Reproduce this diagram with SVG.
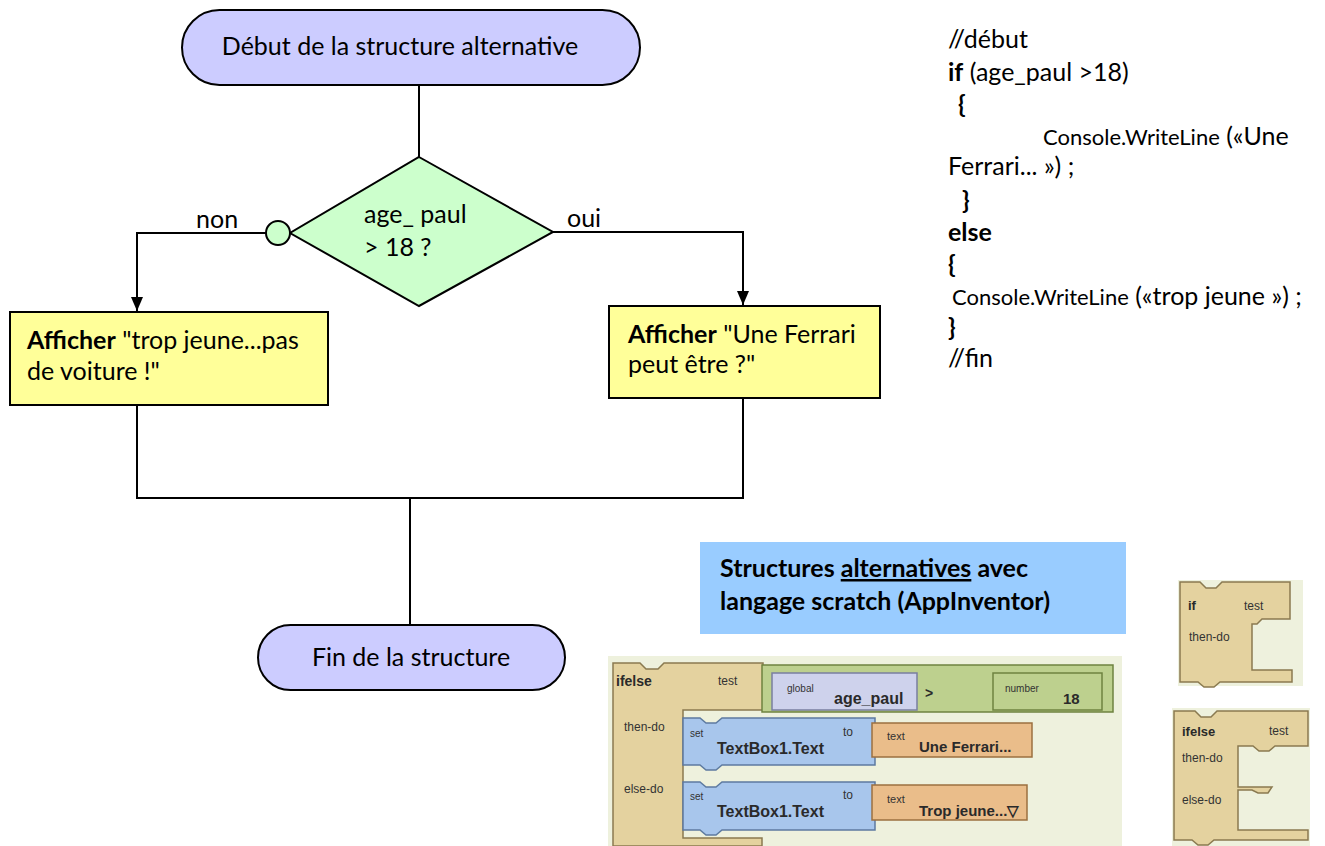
<svg xmlns="http://www.w3.org/2000/svg" width="1325" height="846" viewBox="0 0 1325 846">
<defs>
<marker id="arr" markerWidth="14" markerHeight="12" refX="14" refY="6" orient="auto" markerUnits="userSpaceOnUse" viewBox="0 0 14 12">
<path d="M0,0 L14,6 L0,12 Z" fill="#000"/>
</marker>
<style>
.t{font-family:Lato,"Liberation Sans",sans-serif;font-size:25px;fill:#000}
.c{font-family:Lato,"Liberation Sans",sans-serif;font-size:25px;fill:#000}
.term{fill:#ccccff;stroke:#000;stroke-width:2}
.box{fill:#ffff99;stroke:#000;stroke-width:2}
.dia{fill:#ccffcc;stroke:#000;stroke-width:2}
.ln{fill:none;stroke:#000;stroke-width:2}
.s{font-family:"Liberation Sans",Arial,sans-serif;fill:#333}
.sb{font-family:"Liberation Sans",Arial,sans-serif;font-weight:bold;fill:#2a2a2a}
.tan{fill:#e4d29f;stroke:#8a7a50;stroke-width:1.5}
.blue{fill:#a8c6ec;stroke:#5d7aa0;stroke-width:1.5}
.lav{fill:#ced2ec;stroke:#7a7fa0;stroke-width:1.5}
.grn{fill:#bdd08e;stroke:#6f8240;stroke-width:1.5}
.org{fill:#eabd8a;stroke:#9c7040;stroke-width:1.5}
</style>
</defs>
<rect width="1325" height="846" fill="#fff"/>

<g id="connectors">
<line class="ln" x1="419" y1="85" x2="419" y2="157"/>
<polyline class="ln" points="266,233 137,233 137,311" marker-end="url(#arr)"/>
<polyline class="ln" points="553,232 743,232 743,305" marker-end="url(#arr)"/>
<polyline class="ln" points="137,405 137,498 743,498 743,398"/>
<line class="ln" x1="410" y1="498" x2="410" y2="625"/>
</g>

<g id="start">
<rect class="term" x="182" y="10" width="458" height="75" rx="37.5"/>
<text class="t" x="400" y="55" text-anchor="middle">Début de la structure alternative</text>
</g>

<g id="decision">
<polygon class="dia" points="419,157 553,232 419,306 290,233"/>
<circle class="dia" cx="278" cy="233" r="12"/>
<text class="t" x="364" y="223">age_ paul</text>
<text class="t" x="364" y="256">&gt; 18 ?</text>
<text class="t" x="196" y="228">non</text>
<text class="t" x="567" y="227">oui</text>
</g>

<g id="no-box">
<rect class="box" x="10" y="312" width="318" height="93"/>
<text class="t" x="27" y="349"><tspan font-weight="bold">Afficher</tspan> "trop jeune...pas</text>
<text class="t" x="27" y="380">de voiture !"</text>
</g>

<g id="yes-box">
<rect class="box" x="609" y="306" width="271" height="92"/>
<text class="t" x="628" y="343"><tspan font-weight="bold">Afficher</tspan> "Une Ferrari</text>
<text class="t" x="628" y="373">peut être ?"</text>
</g>

<g id="end">
<rect class="term" x="258" y="625" width="307" height="65" rx="32.5"/>
<text class="t" x="411" y="666" text-anchor="middle">Fin de la structure</text>
</g>

<g id="code">
<text class="c" x="948" y="48">//début</text>
<text class="c" x="948" y="81"><tspan font-weight="bold">if</tspan> (age_paul &gt;18)</text>
<text class="c" x="958" y="113" font-weight="bold">{</text>
<text class="c" x="1043" y="145"><tspan font-size="22">Console.WriteLine</tspan> («Une</text>
<text class="c" x="948" y="175">Ferrari... ») ;</text>
<text class="c" x="962" y="209" font-weight="bold">}</text>
<text class="c" x="948" y="241" font-weight="bold">else</text>
<text class="c" x="948" y="273" font-weight="bold">{</text>
<text class="c" x="952" y="305"><tspan font-size="22">Console.WriteLine</tspan> («trop jeune ») ;</text>
<text class="c" x="948" y="336" font-weight="bold">}</text>
<text class="c" x="948" y="367">//fin</text>
</g>

<g id="title">
<rect x="700" y="542" width="426" height="92" fill="#99ccff"/>
<text class="c" x="720" y="577" font-weight="bold">Structures <tspan text-decoration="underline">alternatives</tspan> avec</text>
<text class="c" x="720" y="610" font-weight="bold">langage scratch (AppInventor)</text>
</g>

<g id="scratch-ifelse">
<rect x="608" y="656" width="514" height="190" fill="#eef1dd"/>
<path class="tan" d="M613,663 H640 l6,6 h12 l6,-6 H763 V710 H683 V838 H762 V846 H613 Z"/>
<path class="grn" d="M762,665 H1113 V712 H762 Z"/>
<path class="lav" d="M772,673 H917 V710 H772 Z"/>
<path class="grn" d="M993,673 H1102 V710 H993 Z"/>
<path class="blue" d="M683,718 H700 l6,5 h10 l6,-5 H875 V765 H722 l-6,5 h-10 l-6,-5 H683 Z"/>
<path class="org" d="M872,723 H1032 V757 H872 Z"/>
<path class="blue" d="M683,782 H700 l6,5 h10 l6,-5 H875 V830 H722 l-6,5 h-10 l-6,-5 H683 Z"/>
<path class="org" d="M872,785 H1027 V820 H872 Z"/>
<text class="sb" x="616" y="686" font-size="14">ifelse</text>
<text class="s" x="718" y="685" font-size="12">test</text>
<text class="s" x="787" y="692" font-size="10">global</text>
<text class="sb" x="834" y="704" font-size="16">age_paul</text>
<text class="sb" x="925" y="698" font-size="14">&gt;</text>
<text class="s" x="1005" y="692" font-size="10">number</text>
<text class="sb" x="1063" y="704" font-size="15">18</text>
<text class="s" x="624" y="731" font-size="12">then-do</text>
<text class="s" x="690" y="737" font-size="10">set</text>
<text class="sb" x="717" y="754" font-size="16">TextBox1.Text</text>
<text class="s" x="843" y="736" font-size="12">to</text>
<text class="s" x="887" y="740" font-size="11">text</text>
<text class="sb" x="919" y="752" font-size="15">Une Ferrari...</text>
<text class="s" x="624" y="793" font-size="12">else-do</text>
<text class="s" x="690" y="800" font-size="10">set</text>
<text class="sb" x="717" y="817" font-size="16">TextBox1.Text</text>
<text class="s" x="843" y="799" font-size="12">to</text>
<text class="s" x="887" y="803" font-size="11">text</text>
<text class="sb" x="919" y="816" font-size="15">Trop jeune...▽</text>
</g>

<g id="scratch-if">
<rect x="1178" y="580" width="125" height="106" fill="#eef1dd"/>
<path class="tan" d="M1180,582 H1200 l6,6 h10 l6,-6 H1290 V619 H1262 l-5,5 h-5 V670 H1292 V682 H1220 l-6,5 h-10 l-6,-5 H1180 Z"/>
<text class="sb" x="1188" y="610" font-size="13">if</text>
<text class="s" x="1244" y="610" font-size="12">test</text>
<text class="s" x="1189" y="641" font-size="12">then-do</text>
</g>

<g id="scratch-ifelse-small">
<rect x="1172" y="708" width="138" height="138" fill="#eef1dd"/>
<path class="tan" d="M1174,711 H1195 l6,6 h10 l6,-6 H1308 V746 H1275 l-6,5 h-10 l-6,-5 H1238 V787 H1272 l-4,6 h-10 l-6,-3 H1238 V830 H1308 V840 H1214 l-6,5 h-10 l-6,-5 H1174 Z"/>
<text class="sb" x="1182" y="736" font-size="13">ifelse</text>
<text class="s" x="1269" y="735" font-size="12">test</text>
<text class="s" x="1182" y="762" font-size="12">then-do</text>
<text class="s" x="1182" y="804" font-size="12">else-do</text>
</g>
</svg>
